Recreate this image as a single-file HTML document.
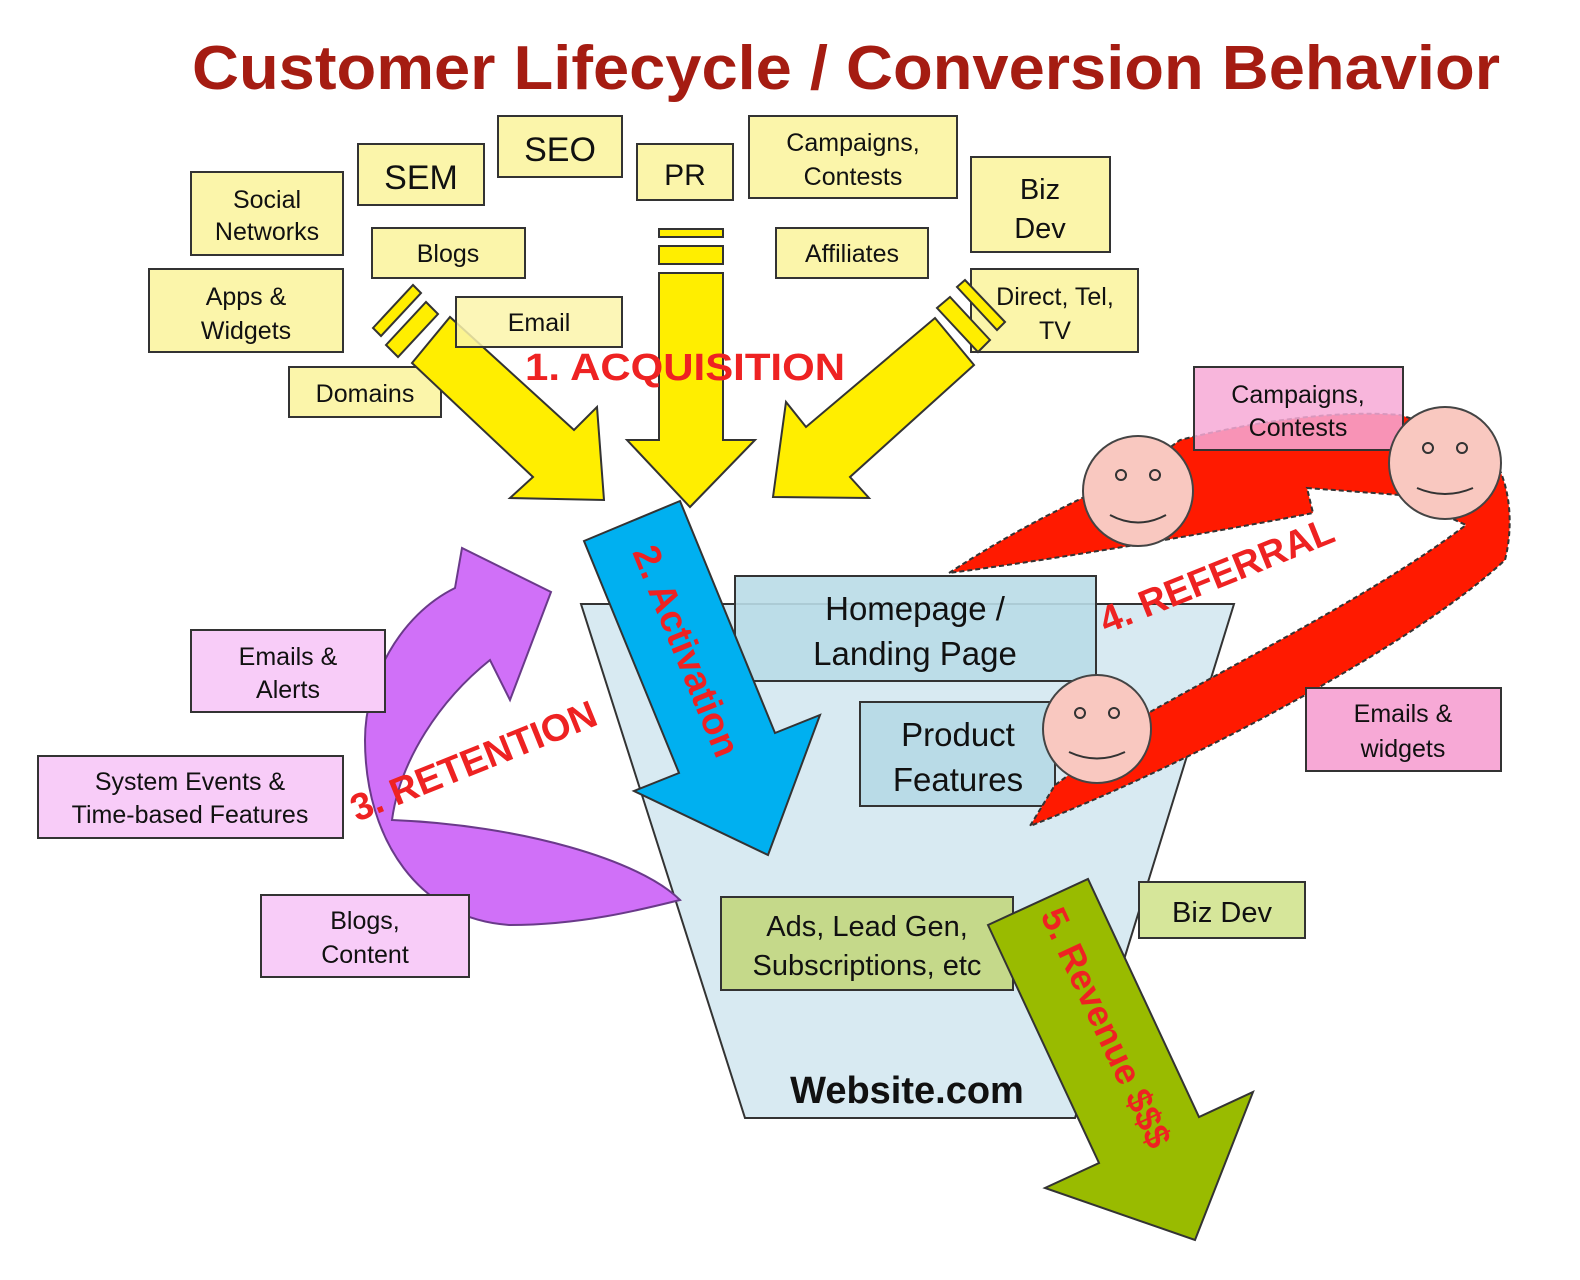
<!DOCTYPE html>
<html><head><meta charset="utf-8"><style>
html,body{margin:0;padding:0;background:#fff;}
svg{display:block;font-family:"Liberation Sans",Arial,sans-serif;}
</style></head><body>
<svg width="1580" height="1280" viewBox="0 0 1580 1280" xmlns="http://www.w3.org/2000/svg">
<rect width="1580" height="1280" fill="#fff"/>
<text x="192" y="89" font-size="62" font-weight="bold" fill="#a51c12" textLength="1308" lengthAdjust="spacingAndGlyphs">Customer Lifecycle / Conversion Behavior</text>

<polygon points="581,604 1234,604 1075,1118 745,1118" fill="#d8eaf2" stroke="#333" stroke-width="2"/>

<g fill="#fbf5aa" stroke="#333" stroke-width="2">
<rect x="191" y="172" width="152" height="83"/>
<rect x="358" y="144" width="126" height="61"/>
<rect x="498" y="116" width="124" height="61"/>
<rect x="637" y="144" width="96" height="56"/>
<rect x="749" y="116" width="208" height="82"/>
<rect x="971" y="157" width="139" height="95"/>
<rect x="372" y="228" width="153" height="50"/>
<rect x="776" y="228" width="152" height="50"/>
<rect x="149" y="269" width="194" height="83"/>
<rect x="289" y="367" width="152" height="50"/>
<rect x="971" y="269" width="167" height="83"/>
</g>

<g fill="#ffee00" stroke="#333" stroke-width="2">
<polygon points="373,328 413,285 421,293 381,336"/>
<polygon points="386,345 426,302 438,314 398,357"/>
<polygon points="412,363 450,317 574,430 597,407 604,500 510,498 533,477"/>
<rect x="659" y="229" width="64" height="8"/>
<rect x="659" y="246" width="64" height="18"/>
<polygon points="659,273 723,273 723,440 755,440 690,507 627,440 659,440"/>
<polygon points="1005,322 965,280 957,287 997,330"/>
<polygon points="990,340 950,297 937,308 978,352"/>
<polygon points="935,318 974,365 850,477 869,498 773,497 786,402 806,427"/>
</g>
<rect x="456" y="297" width="166" height="50" fill="#fbf5aa" fill-opacity="0.85" stroke="#333" stroke-width="2"/>

<g font-size="25" fill="#111" text-anchor="middle">
<text x="267" y="208">Social</text><text x="267" y="240">Networks</text>
<text x="421" y="189" font-size="34">SEM</text>
<text x="560" y="161" font-size="34">SEO</text>
<text x="685" y="185" font-size="30">PR</text>
<text x="853" y="151">Campaigns,</text><text x="853" y="185">Contests</text>
<text x="1040" y="199" font-size="29">Biz</text><text x="1040" y="238" font-size="29">Dev</text>
<text x="448" y="262">Blogs</text>
<text x="852" y="262">Affiliates</text>
<text x="246" y="305">Apps &amp;</text><text x="246" y="339">Widgets</text>
<text x="539" y="331">Email</text>
<text x="365" y="402">Domains</text>
<text x="1055" y="305">Direct, Tel,</text><text x="1055" y="339">TV</text>
</g>
<text x="525" y="380" font-size="38" font-weight="bold" fill="#ee2222" textLength="320" lengthAdjust="spacingAndGlyphs">1. ACQUISITION</text>

<path d="M680,900 C640,860 520,825 392,820 C400,760 440,700 490,660 L510,700 L551,592 L462,548 L455,588 C400,615 365,680 365,740 C365,840 420,920 510,925 C580,925 640,910 680,900 Z" fill="#d070f8" stroke="#6a3a8a" stroke-width="2"/>

<g fill="#f8ccf8" stroke="#333" stroke-width="2">
<rect x="191" y="630" width="194" height="82"/>
<rect x="38" y="756" width="305" height="82"/>
<rect x="261" y="895" width="208" height="82"/>
</g>
<g font-size="25" fill="#111" text-anchor="middle">
<text x="288" y="665">Emails &amp;</text><text x="288" y="698">Alerts</text>
<text x="190" y="790">System Events &amp;</text><text x="190" y="823">Time-based Features</text>
<text x="365" y="929">Blogs,</text><text x="365" y="963">Content</text>
</g>
<text transform="translate(357,822) rotate(-22)" font-size="38" font-weight="bold" fill="#ee2222">3. RETENTION</text>

<rect x="735" y="576" width="361" height="105" fill="#b9dbe7" fill-opacity="0.9" stroke="#333" stroke-width="2"/>
<rect x="860" y="702" width="195" height="104" fill="#b9dbe7" stroke="#333" stroke-width="2"/>
<g font-size="33" fill="#111" text-anchor="middle">
<text x="915" y="620">Homepage /</text><text x="915" y="665">Landing Page</text>
<text x="958" y="746">Product</text><text x="958" y="791">Features</text>
</g>

<polygon points="584,541 680,501 775,733 820,715 768,855 634,791 679,773" fill="#00b0f0" stroke="#333" stroke-width="2"/>
<text transform="translate(632,552) rotate(67.8)" font-size="38" font-weight="bold" fill="#ee2222">2. Activation</text>

<path d="M949,573 C1030,520 1090,495 1140,470 L1180,440 C1260,420 1340,410 1400,415 L1480,440 C1510,470 1515,520 1505,560 C1420,640 1200,760 1030,826 L1055,785 C1090,760 1120,735 1150,712 C1260,650 1380,590 1466,525 L1400,495 L1307,488 L1313,513 C1200,535 1050,560 949,573 Z" fill="#ff1a00" stroke="#333" stroke-width="2" stroke-dasharray="5,3"/>
<rect x="1194" y="367" width="209" height="83" fill="#f7a9d6" fill-opacity="0.85" stroke="#333" stroke-width="2"/>
<g font-size="25" fill="#111" text-anchor="middle">
<text x="1298" y="403">Campaigns,</text><text x="1298" y="436">Contests</text>
</g>
<g fill="#f9c8c0" stroke="#444" stroke-width="2">
<circle cx="1138" cy="491" r="55"/>
<circle cx="1445" cy="463" r="56"/>
<circle cx="1097" cy="729" r="54"/>
</g>
<g fill="none" stroke="#333" stroke-width="2">
<circle cx="1121" cy="475" r="5"/><circle cx="1155" cy="475" r="5"/>
<path d="M1110,515 Q1138,530 1166,515"/>
<circle cx="1428" cy="448" r="5"/><circle cx="1462" cy="448" r="5"/>
<path d="M1417,488 Q1445,500 1473,488"/>
<circle cx="1080" cy="713" r="5"/><circle cx="1114" cy="713" r="5"/>
<path d="M1069,752 Q1097,765 1125,752"/>
</g>
<text transform="translate(1106,634) rotate(-22)" font-size="38" font-weight="bold" fill="#ee2222">4. REFERRAL</text>
<rect x="1306" y="688" width="195" height="83" fill="#f7a9d6" stroke="#333" stroke-width="2"/>
<g font-size="25" fill="#111" text-anchor="middle">
<text x="1403" y="722">Emails &amp;</text><text x="1403" y="757">widgets</text>
</g>

<rect x="721" y="897" width="292" height="93" fill="#c5d98a" stroke="#333" stroke-width="2"/>
<rect x="1139" y="882" width="166" height="56" fill="#d6e69a" stroke="#333" stroke-width="2"/>
<g font-size="29" fill="#111" text-anchor="middle">
<text x="867" y="936">Ads, Lead Gen,</text><text x="867" y="975">Subscriptions, etc</text>
<text x="1222" y="922">Biz Dev</text>
</g>
<text x="907" y="1103" font-size="38" font-weight="bold" fill="#111" text-anchor="middle">Website.com</text>

<polygon points="988,925 1088,879 1199,1117 1253,1092 1195,1240 1045,1188 1099,1163" fill="#99bb00" stroke="#333" stroke-width="2"/>
<text transform="translate(1040,915) rotate(65)" font-size="36" font-weight="bold" fill="#ee2222">5. Revenue $$$</text>
</svg>
</body></html>
